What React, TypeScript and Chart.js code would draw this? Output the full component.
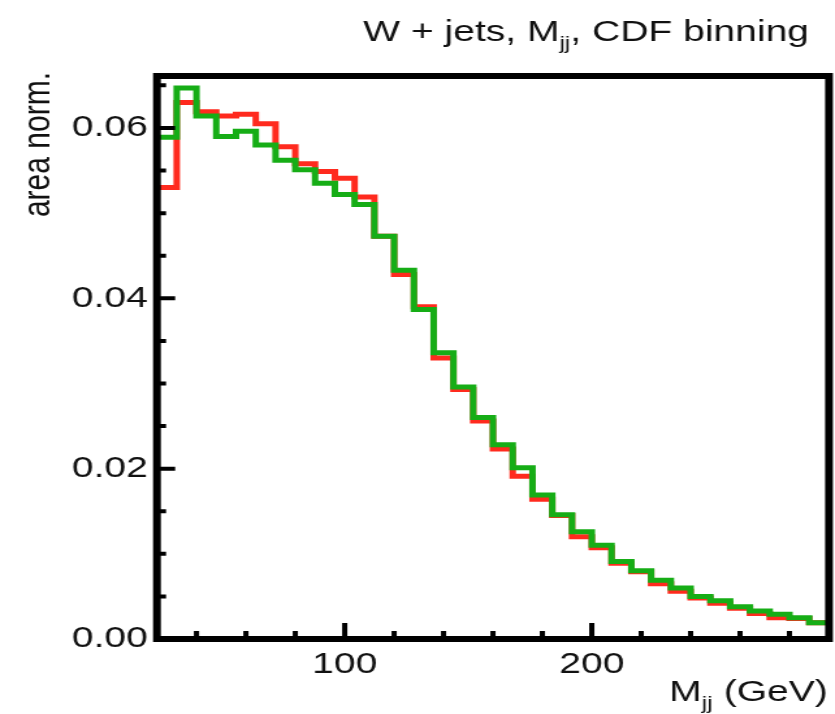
import { useEffect, useRef } from "react";
import { Chart, registerables } from "chart.js";

Chart.register(...registerables);

// Histogram binning (8 GeV bins)
const binLowEdges = [
  24, 32, 40, 48, 56, 64, 72, 80, 88, 96, 104, 112, 120, 128, 136, 144, 152,
  160, 168, 176, 184, 192, 200, 208, 216, 224, 232, 240, 248, 256, 264, 272,
  280, 288,
];
const histUpperEdge = 296;

// Area-normalised bin contents
const redValues = [
  0.053, 0.063, 0.0619, 0.0614, 0.0616, 0.0605, 0.0578, 0.0558, 0.0549,
  0.0541, 0.0519, 0.0473, 0.0428, 0.039, 0.033, 0.0293, 0.0256, 0.0223,
  0.0191, 0.0164, 0.0145, 0.012, 0.0107, 0.0089, 0.0079, 0.0065, 0.0056,
  0.0048, 0.0042, 0.0036, 0.003, 0.0025, 0.0024, 0.0019,
];
const greenValues = [
  0.0589, 0.0647, 0.0614, 0.059, 0.0596, 0.058, 0.0562, 0.0551, 0.0535,
  0.0522, 0.051, 0.0473, 0.0433, 0.0387, 0.0336, 0.0296, 0.026, 0.0228,
  0.0201, 0.0169, 0.0146, 0.0126, 0.011, 0.0091, 0.008, 0.0069, 0.006, 0.005,
  0.0045, 0.0038, 0.0033, 0.0029, 0.0025, 0.0019,
];

// Axis ticks
const xMajorTicks = [100, 200];
const xMinorTicks = [40, 60, 80, 120, 140, 160, 180, 220, 240, 260, 280];
const yMajorTicks = [0, 0.02, 0.04, 0.06];
const yMinorTicks = [
  0.005, 0.01, 0.015, 0.025, 0.03, 0.035, 0.045, 0.05, 0.055, 0.065,
];

const X_MIN = 24;
const X_MAX = 296;
const Y_MIN = 0;
const Y_MAX = 0.0661;

const CANVAS_W = 642;
const CANVAS_H = 714;
const STRETCH = 835 / CANVAS_W;

const FONT_FAMILY = "'Liberation Sans', Arial, Helvetica, sans-serif";
const FONT_SIZE = 30;
const TEXT_COLOR = "#111";
const RED = "#ff2a1e";
const GREEN = "#16ad16";

type Part = { t: string; sub?: boolean };

function histPoints(values: number[]) {
  const pts = binLowEdges.map((x, i) => ({ x, y: values[i] }));
  pts.push({ x: histUpperEdge, y: values[values.length - 1] });
  return pts;
}

function drawRich(
  ctx: CanvasRenderingContext2D,
  parts: Part[],
  xRight: number,
  baseline: number
) {
  const mainFont = `${FONT_SIZE}px ${FONT_FAMILY}`;
  const subFont = `${Math.round(FONT_SIZE * 0.62)}px ${FONT_FAMILY}`;
  const widths = parts.map((p) => {
    ctx.font = p.sub ? subFont : mainFont;
    return ctx.measureText(p.t).width;
  });
  const total = widths.reduce((a, b) => a + b, 0);
  let x = xRight - total;
  ctx.textAlign = "left";
  ctx.textBaseline = "alphabetic";
  parts.forEach((p, i) => {
    ctx.font = p.sub ? subFont : mainFont;
    ctx.fillText(p.t, x, baseline + (p.sub ? 8 : 0));
    x += widths[i];
  });
}

const framePlugin = {
  id: "rootFrame",
  afterDatasetsDraw(chart: any) {
    const { ctx, chartArea: a, scales } = chart;
    const xs = scales.x;
    const ys = scales.y;
    ctx.save();
    ctx.strokeStyle = "#000";
    ctx.lineCap = "butt";
    ctx.lineWidth = 4;
    ctx.beginPath();
    for (const v of xMajorTicks) {
      const px = xs.getPixelForValue(v);
      ctx.moveTo(px, a.bottom);
      ctx.lineTo(px, a.bottom - 16);
    }
    for (const v of xMinorTicks) {
      const px = xs.getPixelForValue(v);
      ctx.moveTo(px, a.bottom);
      ctx.lineTo(px, a.bottom - 8);
    }
    for (const v of yMajorTicks) {
      const py = ys.getPixelForValue(v);
      ctx.moveTo(a.left, py);
      ctx.lineTo(a.left + 14, py);
    }
    for (const v of yMinorTicks) {
      const py = ys.getPixelForValue(v);
      ctx.moveTo(a.left, py);
      ctx.lineTo(a.left + 7, py);
    }
    ctx.stroke();
    ctx.lineWidth = 6;
    ctx.lineJoin = "miter";
    ctx.strokeRect(a.left, a.top, a.right - a.left, a.bottom - a.top);
    ctx.restore();
  },
};

const titlesPlugin = {
  id: "rootTitles",
  afterDraw(chart: any) {
    const { ctx, chartArea: a } = chart;
    ctx.save();
    ctx.fillStyle = TEXT_COLOR;
    // Plot title
    drawRich(
      ctx,
      [{ t: "W + jets, M" }, { t: "jj", sub: true }, { t: ", CDF binning" }],
      622,
      41
    );
    // x-axis title
    drawRich(
      ctx,
      [{ t: "M" }, { t: "jj", sub: true }, { t: " (GeV)" }],
      a.right - 1,
      701
    );
    // y-axis title
    ctx.translate(38, 72);
    ctx.rotate(-Math.PI / 2);
    ctx.font = `${FONT_SIZE}px ${FONT_FAMILY}`;
    ctx.textAlign = "right";
    ctx.textBaseline = "alphabetic";
    ctx.fillText("area norm.", 0, 0);
    ctx.restore();
  },
};

export default function App() {
  const canvasRef = useRef<HTMLCanvasElement | null>(null);

  useEffect(() => {
    const canvas = canvasRef.current;
    if (!canvas) return;
    const tickFont = { family: FONT_FAMILY, size: FONT_SIZE };
    const chart = new Chart(canvas, {
      type: "line",
      data: {
        datasets: [
          {
            label: "green",
            data: histPoints(greenValues),
            borderColor: GREEN,
            borderWidth: 5,
            stepped: true,
            pointRadius: 0,
            fill: false,
            borderJoinStyle: "miter",
            borderCapStyle: "butt",
          },
          {
            label: "red",
            data: histPoints(redValues),
            borderColor: RED,
            borderWidth: 5,
            stepped: true,
            pointRadius: 0,
            fill: false,
            borderJoinStyle: "miter",
            borderCapStyle: "butt",
          },
        ],
      },
      options: {
        responsive: false,
        animation: false,
        devicePixelRatio: 1,
        parsing: false,
        layout: { padding: { left: 0, top: 76, right: 4.6, bottom: 0 } },
        plugins: {
          legend: { display: false },
          title: { display: false },
          tooltip: { enabled: false },
        },
        events: [],
        scales: {
          x: {
            type: "linear",
            min: X_MIN,
            max: X_MAX,
            grid: { display: false, drawTicks: false },
            border: { display: false },
            afterBuildTicks: (s: any) => {
              s.ticks = xMajorTicks.map((v) => ({ value: v }));
            },
            afterFit: (s: any) => {
              s.height = CANVAS_H - 639;
            },
            ticks: {
              font: tickFont,
              color: TEXT_COLOR,
              padding: 8,
              maxRotation: 0,
              autoSkip: false,
              callback: (v: any) => String(v),
            },
          },
          y: {
            type: "linear",
            min: Y_MIN,
            max: Y_MAX,
            grid: { display: false, drawTicks: false },
            border: { display: false },
            afterBuildTicks: (s: any) => {
              s.ticks = yMajorTicks.map((v) => ({ value: v }));
            },
            afterFit: (s: any) => {
              s.width = 120.7;
            },
            ticks: {
              font: tickFont,
              color: TEXT_COLOR,
              padding: 7,
              autoSkip: false,
              callback: (v: any) => Number(v).toFixed(2),
            },
          },
        },
      },
      plugins: [framePlugin, titlesPlugin],
    } as any);
    return () => chart.destroy();
  }, []);

  return (
    <div
      style={{
        position: "absolute",
        left: 0,
        top: 0,
        width: 835,
        height: CANVAS_H,
        background: "#fff",
        overflow: "hidden",
      }}
    >
      <canvas
        ref={canvasRef}
        width={CANVAS_W}
        height={CANVAS_H}
        style={{
          display: "block",
          transform: `scaleX(${STRETCH})`,
          transformOrigin: "0 0",
          background: "#fff",
        }}
      />
    </div>
  );
}
